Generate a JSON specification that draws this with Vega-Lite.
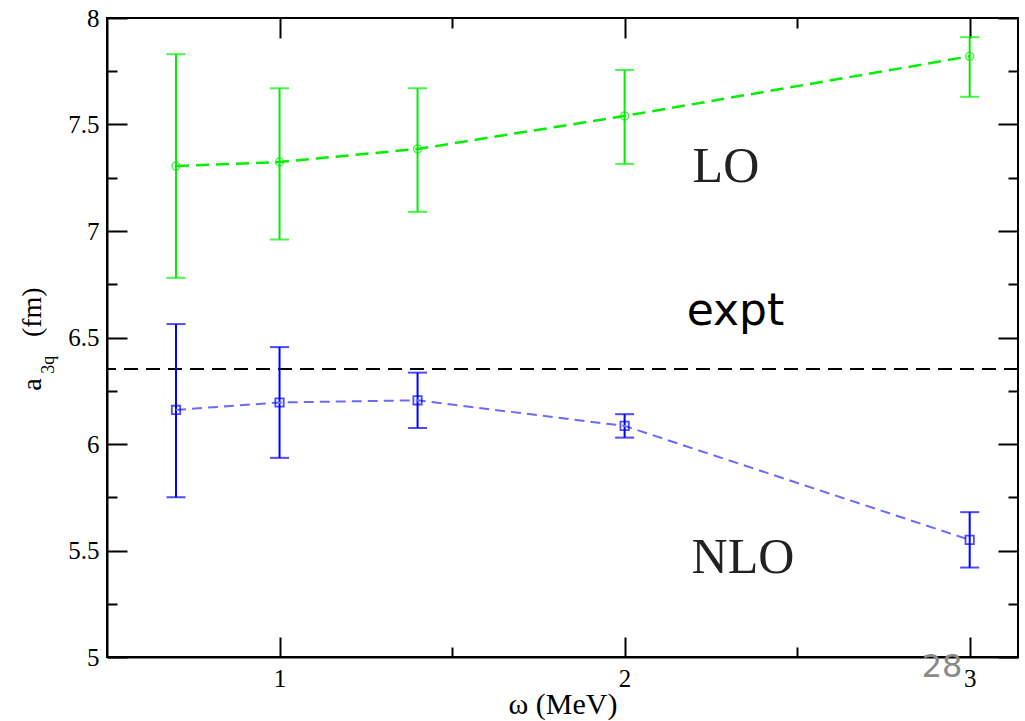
{
  "$schema": "https://vega.github.io/schema/vega-lite/v6.json",
  "autosize": {"type": "none"},
  "width": 911,
  "height": 639,
  "padding": {"left": 107, "top": 18, "right": 7, "bottom": 64},
  "background": "white",
  "config": {
    "view": {"stroke": "black", "strokeWidth": 2},
    "axis": {
      "domainColor": "black",
      "domainWidth": 2,
      "tickColor": "black",
      "tickWidth": 2,
      "grid": false,
      "labelFont": "Liberation Serif",
      "labelFontSize": 25,
      "labelColor": "black",
      "titleFont": "Liberation Serif",
      "titleColor": "black",
      "titleFontWeight": "normal"
    },
    "axisBottom": {"labelFontSize": 25, "labelFont": "Liberation Serif"}
  },
  "datasets": {
    "pts": [
      {"omega": 0.7, "order": "LO", "a": 7.305, "lo": 6.78, "hi": 7.83},
      {"omega": 1.0, "order": "LO", "a": 7.324, "lo": 6.96, "hi": 7.67},
      {"omega": 1.4, "order": "LO", "a": 7.385, "lo": 7.09, "hi": 7.67},
      {"omega": 2.0, "order": "LO", "a": 7.54, "lo": 7.315, "hi": 7.756},
      {"omega": 3.0, "order": "LO", "a": 7.82, "lo": 7.63, "hi": 7.91},
      {"omega": 0.7, "order": "NLO", "a": 6.16, "lo": 5.75, "hi": 6.563},
      {"omega": 1.0, "order": "NLO", "a": 6.195, "lo": 5.935, "hi": 6.455},
      {"omega": 1.4, "order": "NLO", "a": 6.205, "lo": 6.075, "hi": 6.335},
      {"omega": 2.0, "order": "NLO", "a": 6.085, "lo": 6.03, "hi": 6.14},
      {"omega": 3.0, "order": "NLO", "a": 5.55, "lo": 5.42, "hi": 5.68}
    ]
  },
  "layer": [
    {
      "data": {"values": [{"a": 6.352}]},
      "mark": {"type": "rule", "color": "black", "strokeWidth": 2, "strokeDash": [14, 8]},
      "encoding": {
        "y": {"field": "a", "type": "quantitative", "scale": {"domain": [5, 8], "nice": false, "zero": false}, "axis": null}
      }
    },
    {
      "data": {"name": "pts"},
      "transform": [{"filter": "datum.order === 'LO'"}],
      "mark": {"type": "errorbar", "color": "#00ee00", "ticks": {"size": 19, "thickness": 2, "color": "#00ee00"}, "rule": {"strokeWidth": 2}},
      "encoding": {
        "x": {"field": "omega", "type": "quantitative", "scale": {"domain": [0.5, 3.14], "nice": false, "zero": false},
          "axis": {"orient": "bottom", "values": [1, 2, 3], "tickSize": -20, "labelPadding": 29, "format": "~g",
            "labelFont": "Liberation Serif", "labelFontSize": 25, "labelColor": "black",
            "title": "ω (MeV)", "titleFont": "Liberation Serif", "titleFontSize": 30, "titleFontWeight": "normal",
            "titleColor": "black", "titleBaseline": "alphabetic", "titleY": 56}},
        "y": {"field": "lo", "type": "quantitative", "scale": {"domain": [5, 8], "nice": false, "zero": false},
          "axis": {"orient": "left", "values": [5, 5.5, 6, 6.5, 7, 7.5, 8], "tickSize": -20, "labelPadding": 28, "format": "~g",
            "labelFont": "Liberation Serif", "labelFontSize": 25, "labelColor": "black", "title": null}},
        "y2": {"field": "hi"}
      }
    },
    {
      "data": {"name": "pts"},
      "transform": [{"filter": "datum.order === 'NLO'"}],
      "mark": {"type": "errorbar", "color": "#0000ff", "ticks": {"size": 19, "thickness": 2, "color": "#0000ff"}, "rule": {"strokeWidth": 2}},
      "encoding": {
        "x": {"field": "omega", "type": "quantitative",
          "axis": {"orient": "top", "values": [1, 2, 3], "tickSize": -20, "labels": false, "domain": false, "title": null}},
        "y": {"field": "lo", "type": "quantitative",
          "axis": {"orient": "right", "values": [5, 5.5, 6, 6.5, 7, 7.5, 8], "tickSize": -20, "labels": false, "domain": false, "title": null}},
        "y2": {"field": "hi"}
      }
    },
    {
      "data": {"name": "pts"},
      "transform": [{"filter": "datum.order === 'LO'"}],
      "mark": {"type": "line", "color": "#00ee00", "strokeWidth": 2.5, "strokeDash": [13, 7]},
      "encoding": {
        "x": {"field": "omega", "type": "quantitative",
          "axis": {"orient": "bottom", "values": [1.5, 2.5], "tickSize": -10, "labels": false, "domain": false, "title": null}},
        "y": {"field": "a", "type": "quantitative",
          "axis": {"orient": "left", "values": [5.25, 5.75, 6.25, 6.75, 7.25, 7.75], "tickSize": -10, "labels": false, "domain": false, "title": null}}
      }
    },
    {
      "data": {"name": "pts"},
      "transform": [{"filter": "datum.order === 'NLO'"}],
      "mark": {"type": "line", "color": "#6a6aff", "strokeWidth": 2, "strokeDash": [10, 6]},
      "encoding": {
        "x": {"field": "omega", "type": "quantitative",
          "axis": {"orient": "top", "values": [1.5, 2.5], "tickSize": -10, "labels": false, "domain": false, "title": null}},
        "y": {"field": "a", "type": "quantitative",
          "axis": {"orient": "right", "values": [5.25, 5.75, 6.25, 6.75, 7.25, 7.75], "tickSize": -10, "labels": false, "domain": false, "title": null}}
      }
    },
    {
      "data": {"name": "pts"},
      "transform": [{"filter": "datum.order === 'LO'"}],
      "mark": {"type": "point", "shape": "circle", "filled": false, "color": "#00ee00", "size": 64, "strokeWidth": 1.5},
      "encoding": {
        "x": {"field": "omega", "type": "quantitative", "axis": null},
        "y": {"field": "a", "type": "quantitative", "axis": null}
      }
    },
    {
      "data": {"name": "pts"},
      "transform": [{"filter": "datum.order === 'NLO'"}],
      "mark": {"type": "point", "shape": "square", "filled": false, "color": "#0000ff", "size": 70, "strokeWidth": 1.8},
      "encoding": {
        "x": {"field": "omega", "type": "quantitative", "axis": null},
        "y": {"field": "a", "type": "quantitative", "axis": null}
      }
    },
    {
      "data": {"values": [
        {"label": "LO", "x": 2.197, "y": 7.23},
        {"label": "NLO", "x": 2.194, "y": 5.394}
      ]},
      "mark": {"type": "text", "font": "Liberation Serif", "fontSize": 50, "align": "left", "baseline": "alphabetic", "color": "#222222"},
      "encoding": {
        "x": {"field": "x", "type": "quantitative", "axis": null},
        "y": {"field": "y", "type": "quantitative", "axis": null},
        "text": {"field": "label"}
      }
    },
    {
      "data": {"values": [{"label": "expt", "x": 2.18, "y": 6.559}]},
      "mark": {"type": "text", "font": "DejaVu Sans", "fontSize": 44, "align": "left", "baseline": "alphabetic", "color": "black"},
      "encoding": {
        "x": {"field": "x", "type": "quantitative", "axis": null},
        "y": {"field": "y", "type": "quantitative", "axis": null},
        "text": {"field": "label"}
      }
    },
    {
      "data": {"values": [{"label": "28", "x": 2.861, "y": 4.906}]},
      "mark": {"type": "text", "font": "DejaVu Sans", "fontSize": 32, "align": "left", "baseline": "alphabetic", "color": "#8a8a8a"},
      "encoding": {
        "x": {"field": "x", "type": "quantitative", "axis": null},
        "y": {"field": "y", "type": "quantitative", "axis": null},
        "text": {"field": "label"}
      }
    },
    {
      "data": {"values": [
        {"label": "a", "x": 0.3087, "y": 6.25},
        {"label": "(fm)", "x": 0.3087, "y": 6.502}
      ]},
      "mark": {"type": "text", "font": "Liberation Serif", "fontSize": 28, "angle": 270, "align": "left", "baseline": "alphabetic", "color": "black"},
      "encoding": {
        "x": {"field": "x", "type": "quantitative", "axis": null},
        "y": {"field": "y", "type": "quantitative", "axis": null},
        "text": {"field": "label"}
      }
    },
    {
      "data": {"values": [{"label": "3q", "x": 0.3464, "y": 6.33}]},
      "mark": {"type": "text", "font": "Liberation Serif", "fontSize": 18, "angle": 270, "align": "left", "baseline": "alphabetic", "color": "black"},
      "encoding": {
        "x": {"field": "x", "type": "quantitative", "axis": null},
        "y": {"field": "y", "type": "quantitative", "axis": null},
        "text": {"field": "label"}
      }
    }
  ],
  "resolve": {"axis": {"x": "independent", "y": "independent"}}
}
